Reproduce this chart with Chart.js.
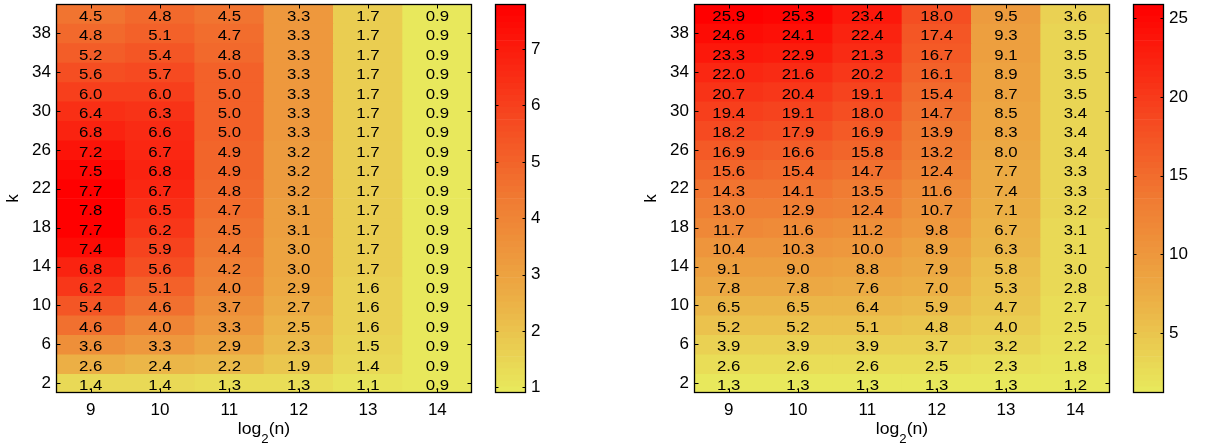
<!DOCTYPE html>
<html>
<head>
<meta charset="utf-8">
<script src="https://cdn.jsdelivr.net/npm/chart.js@4/dist/chart.umd.min.js"></script>
<style>
  html, body { margin: 0; padding: 0; background: #fff; }
  #wrap { position: relative; width: 1205px; height: 448px; overflow: hidden; }
  #wrap canvas { position: absolute; top: 0; }
</style>
</head>
<body>
<div id="wrap">
  <canvas id="heatA" width="480" height="448" style="left:0px"></canvas>
  <canvas id="barA" width="120" height="448" style="left:480px"></canvas>
  <canvas id="heatB" width="480" height="448" style="left:638px"></canvas>
  <canvas id="barB" width="87" height="448" style="left:1118px"></canvas>
</div>
<script>
// columns: log2(n)
const logN = [9, 10, 11, 12, 13, 14];
// rows: k, listed from top row to bottom row
const kValues = [40, 38, 36, 34, 32, 30, 28, 26, 24, 22, 20, 18, 16, 14, 12, 10, 8, 6, 4, 2];
const kTicks = [2, 6, 10, 14, 18, 22, 26, 30, 34, 38];

// left panel, one row per k (top to bottom), one entry per log2(n)
const gridA = [
  [4.5, 4.8, 4.5, 3.3, 1.7, 0.9],
  [4.8, 5.1, 4.7, 3.3, 1.7, 0.9],
  [5.2, 5.4, 4.8, 3.3, 1.7, 0.9],
  [5.6, 5.7, 5.0, 3.3, 1.7, 0.9],
  [6.0, 6.0, 5.0, 3.3, 1.7, 0.9],
  [6.4, 6.3, 5.0, 3.3, 1.7, 0.9],
  [6.8, 6.6, 5.0, 3.3, 1.7, 0.9],
  [7.2, 6.7, 4.9, 3.2, 1.7, 0.9],
  [7.5, 6.8, 4.9, 3.2, 1.7, 0.9],
  [7.7, 6.7, 4.8, 3.2, 1.7, 0.9],
  [7.8, 6.5, 4.7, 3.1, 1.7, 0.9],
  [7.7, 6.2, 4.5, 3.1, 1.7, 0.9],
  [7.4, 5.9, 4.4, 3.0, 1.7, 0.9],
  [6.8, 5.6, 4.2, 3.0, 1.7, 0.9],
  [6.2, 5.1, 4.0, 2.9, 1.6, 0.9],
  [5.4, 4.6, 3.7, 2.7, 1.6, 0.9],
  [4.6, 4.0, 3.3, 2.5, 1.6, 0.9],
  [3.6, 3.3, 2.9, 2.3, 1.5, 0.9],
  [2.6, 2.4, 2.2, 1.9, 1.4, 0.9],
  [1.4, 1.4, 1.3, 1.3, 1.1, 0.9]
];

// right panel, same layout
const gridB = [
  [25.9, 25.3, 23.4, 18.0, 9.5, 3.6],
  [24.6, 24.1, 22.4, 17.4, 9.3, 3.5],
  [23.3, 22.9, 21.3, 16.7, 9.1, 3.5],
  [22.0, 21.6, 20.2, 16.1, 8.9, 3.5],
  [20.7, 20.4, 19.1, 15.4, 8.7, 3.5],
  [19.4, 19.1, 18.0, 14.7, 8.5, 3.4],
  [18.2, 17.9, 16.9, 13.9, 8.3, 3.4],
  [16.9, 16.6, 15.8, 13.2, 8.0, 3.4],
  [15.6, 15.4, 14.7, 12.4, 7.7, 3.3],
  [14.3, 14.1, 13.5, 11.6, 7.4, 3.3],
  [13.0, 12.9, 12.4, 10.7, 7.1, 3.2],
  [11.7, 11.6, 11.2, 9.8, 6.7, 3.1],
  [10.4, 10.3, 10.0, 8.9, 6.3, 3.1],
  [9.1, 9.0, 8.8, 7.9, 5.8, 3.0],
  [7.8, 7.8, 7.6, 7.0, 5.3, 2.8],
  [6.5, 6.5, 6.4, 5.9, 4.7, 2.7],
  [5.2, 5.2, 5.1, 4.8, 4.0, 2.5],
  [3.9, 3.9, 3.9, 3.7, 3.2, 2.2],
  [2.6, 2.6, 2.6, 2.5, 2.3, 1.8],
  [1.3, 1.3, 1.3, 1.3, 1.3, 1.2]
];

// colour bar tick labels
const barTicksA = [1, 2, 3, 4, 5, 6, 7];
const barTicksB = [5, 10, 15, 20, 25];

const FONT = "'Liberation Sans', Arial, Helvetica, sans-serif";
const LEVELS = 64;

// yellow -> orange -> red colour map
const CMAP = [
  [0.00, [232, 232, 92]],
  [0.25, [236, 172, 68]],
  [0.50, [240, 122, 50]],
  [0.75, [247, 62, 28]],
  [1.00, [255, 0, 0]]
];
function colormap(t) {
  t = Math.max(0, Math.min(1, t));
  for (let i = 1; i < CMAP.length; i++) {
    if (t <= CMAP[i][0]) {
      const [t0, c0] = CMAP[i - 1], [t1, c1] = CMAP[i];
      const f = (t - t0) / (t1 - t0);
      const c = c0.map((v, j) => Math.round(v + (c1[j] - v) * f));
      return `rgb(${c[0]},${c[1]},${c[2]})`;
    }
  }
  return 'rgb(255,0,0)';
}
function cellColor(v, vmin, vmax) {
  let i = Math.floor((v - vmin) / (vmax - vmin) * LEVELS);
  i = Math.max(0, Math.min(LEVELS - 1, i));
  return colormap(i / (LEVELS - 1));
}
const flat = g => g.reduce((a, r) => a.concat(r), []);

// box frame with inward tick marks on all four sides
const framePlugin = {
  id: 'frame',
  afterDraw(chart, args, opts) {
    const { ctx, chartArea: a } = chart;
    const L = Math.round(a.left) + 0.5, R = Math.round(a.right) - 0.5;
    const T = Math.round(a.top) + 0.5, B = Math.round(a.bottom) - 0.5;
    ctx.save();
    ctx.strokeStyle = '#000';
    ctx.lineWidth = 1;
    ctx.beginPath();
    const ys = chart.scales.y;
    opts.yTicks.forEach(v => {
      const py = Math.round(ys.getPixelForValue(v)) + 0.5;
      ctx.moveTo(L, py); ctx.lineTo(L + opts.len, py);
      ctx.moveTo(R, py); ctx.lineTo(R - opts.len, py);
    });
    if (opts.xTicks) {
      const xs = chart.scales.x;
      opts.xTicks.forEach((v, i) => {
        const px = Math.round(xs.getPixelForValue(i)) + 0.5;
        ctx.moveTo(px, B); ctx.lineTo(px, B - opts.len);
        ctx.moveTo(px, T); ctx.lineTo(px, T + opts.len);
      });
    }
    ctx.stroke();
    ctx.lineWidth = opts.frameWidth || 1.3;
    ctx.strokeRect(L, T, R - L, B - T);
    ctx.restore();
  }
};

// numbers written in each cell + axis titles
const textPlugin = {
  id: 'cellText',
  afterDatasetsDraw(chart) {
    const { ctx } = chart;
    const ys = chart.scales.y;
    ctx.save();
    ctx.fillStyle = '#000';
    ctx.font = `15px ${FONT}`;
    ctx.textAlign = 'center';
    ctx.textBaseline = 'alphabetic';
    chart.data.datasets.forEach((ds, r) => {
      const meta = chart.getDatasetMeta(r);
      const py = ys.getPixelForValue(kValues[r]);
      meta.data.forEach((bar, c) => {
        ctx.save();
        ctx.translate(bar.x, py + 7);
        ctx.scale(1.12, 1);
        ctx.fillText(ds.values[c].toFixed(1), 0, 0);
        ctx.restore();
      });
    });
    ctx.restore();
  },
  afterDraw(chart) {
    const { ctx, chartArea: a } = chart;
    ctx.save();
    ctx.fillStyle = '#000';
    // x title: log_2(n)
    const main = `16px ${FONT}`, sub = `12px ${FONT}`;
    ctx.font = main; const w1 = ctx.measureText('log').width, w3 = ctx.measureText('(n)').width;
    ctx.font = sub; const w2 = ctx.measureText('2').width;
    const sx = 1.1;
    const cx = (a.left + a.right) / 2;
    const base = a.bottom + 41;
    ctx.save();
    ctx.translate(cx, base);
    ctx.scale(sx, 1);
    let x = -(w1 + w2 + w3) / 2;
    ctx.textAlign = 'left';
    ctx.textBaseline = 'alphabetic';
    ctx.font = main; ctx.fillText('log', x, 0); x += w1;
    ctx.font = sub; ctx.fillText('2', x, 9); x += w2;
    ctx.font = main; ctx.fillText('(n)', x, 0);
    ctx.restore();
    // y title: k
    ctx.translate(a.left - 43, (a.top + a.bottom) / 2);
    ctx.rotate(-Math.PI / 2);
    ctx.textAlign = 'center';
    ctx.textBaseline = 'middle';
    ctx.font = `17px ${FONT}`;
    ctx.fillText('k', 0, 0);
    ctx.restore();
  }
};

function heatChart(id, grid) {
  const vals = flat(grid);
  const vmin = Math.min(...vals), vmax = Math.max(...vals);
  const datasets = kValues.map((k, r) => ({
    data: grid[r].map(() => [k - 1, k + 1]),
    values: grid[r],
    backgroundColor: grid[r].map(v => cellColor(v, vmin, vmax)),
    borderWidth: 0,
    borderSkipped: false,
    grouped: false,
    barPercentage: 1,
    categoryPercentage: 1
  }));
  return new Chart(document.getElementById(id), {
    type: 'bar',
    data: { labels: logN.map(String), datasets },
    options: {
      responsive: false,
      animation: false,
      events: [],
      layout: { padding: { left: 0, right: 8, top: 4, bottom: 0 } },
      plugins: {
        legend: { display: false },
        tooltip: { enabled: false },
        frame: { yTicks: kTicks, xTicks: logN, len: 4 }
      },
      scales: {
        x: {
          type: 'category',
          offset: true,
          grid: { display: false, drawTicks: false },
          border: { display: false },
          ticks: { color: '#000', font: { family: FONT, size: 17 }, padding: 7, maxRotation: 0 },
          afterFit: s => { s.height = 55; s.paddingLeft = 0; s.paddingRight = 0; }
        },
        y: {
          type: 'linear',
          min: 1, max: 41,
          grid: { display: false, drawTicks: false },
          border: { display: false },
          afterBuildTicks: s => { s.ticks = kTicks.map(v => ({ value: v })); },
          ticks: { color: '#000', font: { family: FONT, size: 17 }, padding: 5 },
          afterFit: s => { s.width = 56; s.paddingTop = 0; s.paddingBottom = 0; }
        }
      }
    },
    plugins: [textPlugin, framePlugin]
  });
}

function barChart(id, grid, ticks, axisWidth) {
  const vals = flat(grid);
  const vmin = Math.min(...vals), vmax = Math.max(...vals);
  const datasets = [];
  for (let i = 0; i < LEVELS; i++) {
    datasets.push({
      data: [[vmin + (vmax - vmin) * i / LEVELS, vmin + (vmax - vmin) * (i + 1) / LEVELS]],
      backgroundColor: colormap(i / (LEVELS - 1)),
      borderWidth: 0,
      borderSkipped: false,
      grouped: false,
      barPercentage: 1,
      categoryPercentage: 1
    });
  }
  return new Chart(document.getElementById(id), {
    type: 'bar',
    data: { labels: [''], datasets },
    options: {
      responsive: false,
      animation: false,
      events: [],
      layout: { padding: { left: 15, right: 0, top: 4, bottom: 55 } },
      plugins: {
        legend: { display: false },
        tooltip: { enabled: false },
        frame: { yTicks: ticks, len: 3 }
      },
      scales: {
        x: { type: 'category', display: false, offset: true },
        y: {
          type: 'linear',
          position: 'right',
          min: vmin, max: vmax,
          grid: { display: false, drawTicks: false },
          border: { display: false },
          afterBuildTicks: s => { s.ticks = ticks.map(v => ({ value: v })); },
          ticks: { color: '#000', font: { family: FONT, size: 17 }, padding: 5 },
          afterFit: s => { s.width = axisWidth; s.paddingTop = 0; s.paddingBottom = 0; }
        }
      }
    },
    plugins: [framePlugin]
  });
}

heatChart('heatA', gridA);
barChart('barA', gridA, barTicksA, 74);
heatChart('heatB', gridB);
barChart('barB', gridB, barTicksB, 41);
</script>
</body>
</html>
